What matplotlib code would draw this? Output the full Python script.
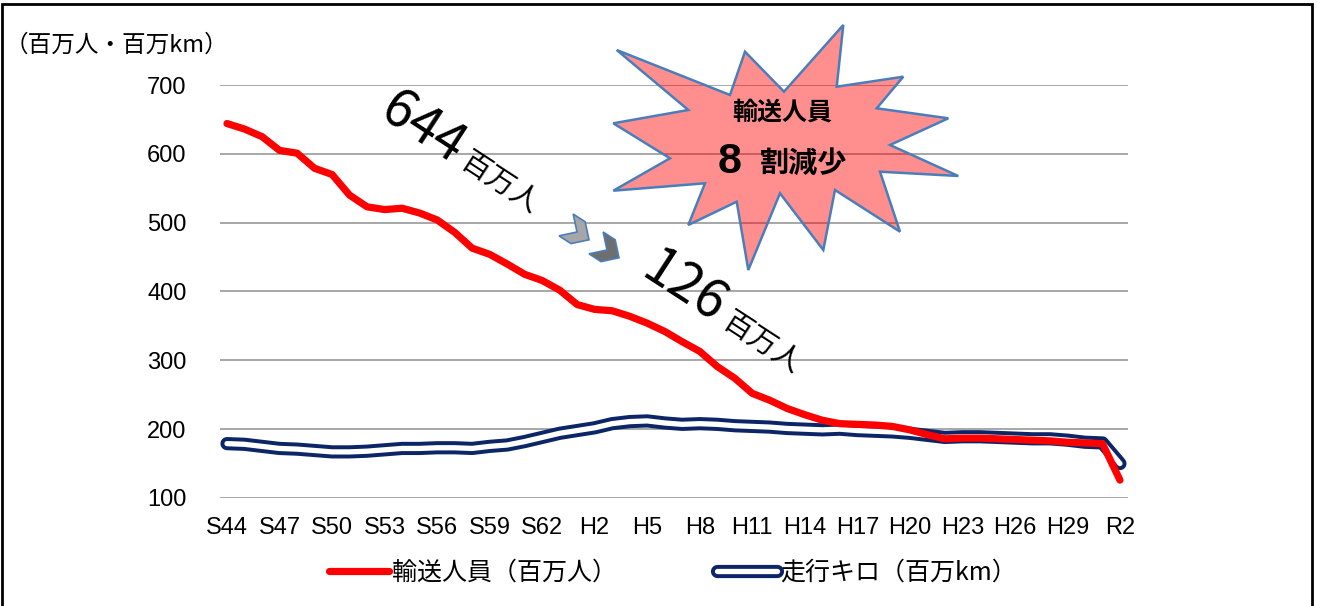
import numpy as np
import matplotlib
matplotlib.use('Agg')
import matplotlib.pyplot as plt
from matplotlib.lines import Line2D
from matplotlib.patches import Polygon, Rectangle
from matplotlib.legend_handler import HandlerTuple

plt.rcParams['font.family'] = ['Noto Sans CJK JP', 'DejaVu Sans']

# 年度 (S44 〜 R2)
years = ['S44', 'S45', 'S46', 'S47', 'S48', 'S49', 'S50', 'S51', 'S52', 'S53',
         'S54', 'S55', 'S56', 'S57', 'S58', 'S59', 'S60', 'S61', 'S62', 'S63',
         'H1', 'H2', 'H3', 'H4', 'H5', 'H6', 'H7', 'H8', 'H9', 'H10',
         'H11', 'H12', 'H13', 'H14', 'H15', 'H16', 'H17', 'H18', 'H19', 'H20',
         'H21', 'H22', 'H23', 'H24', 'H25', 'H26', 'H27', 'H28', 'H29', 'H30',
         'R1', 'R2']

# 輸送人員（百万人）
passengers = [644, 636, 625, 605, 601, 579, 570, 540, 523, 519,
              521, 514, 504, 486, 463, 454, 440, 425, 416, 402,
              381, 374, 372, 364, 354, 342, 327, 313, 291, 274,
              252, 242, 230, 221, 213, 208, 207, 206, 204, 199,
              192, 186, 187, 187, 186, 185, 184, 183, 181, 180,
              179, 126]

# 走行キロ（百万km）
distance = [179, 178, 175, 172, 171, 169, 167, 167, 168, 170,
            172, 172, 173, 173, 172, 175, 177, 182, 188, 194,
            198, 202, 208, 211, 212, 209, 207, 208, 207, 205,
            204, 203, 201, 200, 199, 200, 198, 197, 196, 194,
            191, 188, 189, 189, 188, 187, 186, 186, 184, 181,
            180, 150]

yticks = [100, 200, 300, 400, 500, 600, 700]

W, H = 1317, 606
red = '#FF0000'
navy = '#0B2566'


def px(x, y):
    """pixel (top-left origin) -> figure fraction"""
    return x / W, 1 - y / H


fig = plt.figure(figsize=(W / 100, H / 100), dpi=100)
ax = fig.add_axes([220 / W, 1 - 498 / H, (1128 - 220) / W, (498 - 85) / H])

x = np.arange(len(years))

# 走行キロ: 二重線
ax.plot(x, distance, color=navy, lw=9.5, solid_capstyle='round',
        solid_joinstyle='round', zorder=2)
ax.plot(x, distance, color='white', lw=3.8, solid_capstyle='round',
        solid_joinstyle='round', zorder=2.1)
# 輸送人員
ax.plot(x, passengers, color=red, lw=5.2, solid_capstyle='round',
        solid_joinstyle='round', zorder=3)

ax.set_xlim(-0.4, len(years) - 1 + 0.46)
ax.set_ylim(100, 700)
ax.set_yticks(yticks)
ax.set_xticks(x[::3])
ax.set_xticklabels(years[::3])
ax.grid(axis='y', color='#A0A0A0', lw=1.3)
ax.set_axisbelow(True)
for s in ax.spines.values():
    s.set_visible(False)
ax.tick_params(length=0)
ax.tick_params(axis='y', pad=24)
ax.tick_params(axis='x', pad=14)
for lab in ax.get_xticklabels() + ax.get_yticklabels():
    lab.set_family(['Liberation Sans', 'DejaVu Sans'])
    lab.set_fontsize(17)

# 単位
fig.text(*px(5, 45), '（百万人・百万km）', fontsize=17, ha='left', va='center')

# 凡例
h_red = Line2D([], [], color=red, lw=5.2, solid_capstyle='round')
h_navy = Line2D([], [], color=navy, lw=9.5, solid_capstyle='round')
h_white = Line2D([], [], color='white', lw=3.8, solid_capstyle='round')
fig.legend([h_red, (h_navy, h_white)], ['輸送人員（百万人）', '走行キロ（百万km）'],
           handler_map={tuple: HandlerTuple(ndivide=1)},
           loc='center', bbox_to_anchor=px(673, 573), ncol=2, frameon=False,
           fontsize=18, handlelength=2.4, handletextpad=0.12,
           columnspacing=4.0)

# 爆発マーク
star = [(616.7, 50), (730, 95), (745, 51.7), (784, 91.7), (843.3, 25),
        (836.7, 86.7), (903.3, 76.7), (876.7, 108.3), (948.3, 118.3),
        (890, 145), (958.3, 176), (880, 171.7), (900, 231.7), (835, 190),
        (823.3, 250), (780, 193.3), (748.3, 270), (736.7, 201.7),
        (688.3, 225), (705, 183.3), (613.3, 190.7), (670, 158.3),
        (613.3, 123.3), (688.3, 110)]
fig.add_artist(Polygon([px(a, b) for a, b in star], closed=True,
                       facecolor=(1, 0, 0, 0.44), edgecolor='#4A7EBB',
                       lw=1.8, transform=fig.transFigure, zorder=4))
fig.text(*px(782, 113), '輸送人員', fontsize=18, fontweight='bold',
         ha='center', va='center', zorder=5)
fig.text(*px(730, 162), '8', fontsize=31, fontweight='bold',
         family=['Liberation Sans', 'DejaVu Sans'],
         ha='center', va='center', zorder=5)
fig.text(*px(804, 163), '割減少', fontsize=21, fontweight='bold',
         ha='center', va='center', zorder=5)

# 644 → 126
ang = -33
for num, c1, c2 in [('644', (423, 129), (499, 183)),
                    ('126', (684, 288), (761, 343))]:
    fig.text(*px(*c1), num, fontsize=38, rotation=ang, rotation_mode='anchor',
             ha='center', va='center', zorder=5)
    fig.text(*px(*c2), '百万人', fontsize=21, rotation=ang,
             rotation_mode='anchor', ha='center', va='center', zorder=5)

# 矢印（シェブロン）
chev = np.array([[-0.5, 0.5], [0.05, 0.5], [0.55, 0.0], [0.05, -0.5],
                 [-0.5, -0.5], [0.0, 0.0]]) * 26
t = np.deg2rad(-33)
rot = np.array([[np.cos(t), -np.sin(t)], [np.sin(t), np.cos(t)]])
for (cx, cy), fc in [((577, 232), '#A6A6A6'), ((607, 250), '#6E6E6E')]:
    pts = chev @ rot.T
    verts = [px(cx + p[0], cy - p[1]) for p in pts]
    fig.add_artist(Polygon(verts, closed=True, facecolor=fc,
                           edgecolor='#4A7EBB', lw=1.2,
                           transform=fig.transFigure, zorder=5))

# 外枠
fig.add_artist(Rectangle(px(2, 620), (1312 - 2) / W, (620 - 4) / H,
                         fill=False, edgecolor='black', lw=2,
                         transform=fig.transFigure, zorder=6))

fig.savefig('out.png', dpi=100)
